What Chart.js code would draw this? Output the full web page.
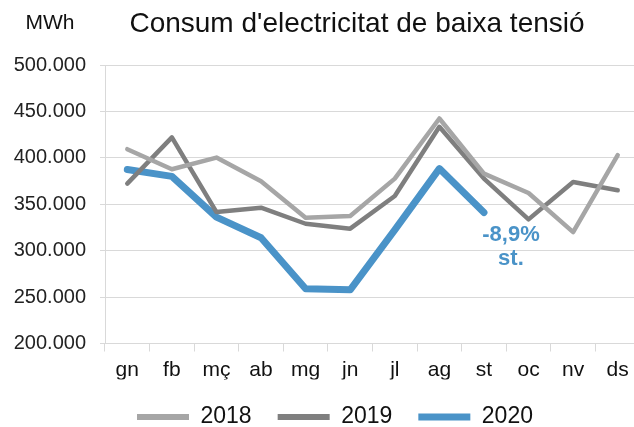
<!DOCTYPE html>
<html>
<head>
<meta charset="utf-8">
<script src="https://cdn.jsdelivr.net/npm/chart.js@4.4.1/dist/chart.umd.min.js"></script>
<style>
  html, body { margin: 0; padding: 0; background: #fff; overflow: hidden; }
  #wrap { width: 645px; height: 440px; }
</style>
</head>
<body>
<div id="wrap"><canvas id="chart_consum" width="645" height="440"></canvas></div>
<script>
//Chart data
const months = ["gn", "fb", "mç", "ab", "mg", "jn", "jl", "ag", "st", "oc", "nv", "ds"];
const values2018 = [409300, 387700, 400300, 374700, 335500, 337300, 377600, 442400, 383000, 362100, 320000, 402800];
const values2019 = [372200, 422000, 341600, 346300, 329000, 323700, 358900, 433400, 377600, 333700, 374000, 365000];
const values2020 = [387400, 380000, 336200, 313900, 258900, 257800, 322400, 388400, 341000, null, null, null];
const yTicks = [200000, 250000, 300000, 350000, 400000, 450000, 500000];
const noteLines = ["-8,9%", "st."];

const FONT = "'Liberation Sans', Arial, sans-serif";
const BLUE = "#4a93c8";
const LEGEND_PAD = 26;

//Thousands with a dot, like the original
function fmt(v){
    return String(v).replace(/\B(?=(\d{3})+(?!\d))/g, ".");
}

//Title, unit and the september note
const textPlugin = {
    id: "textPlugin",
    afterDraw(chart){
        const ctx = chart.ctx;
        ctx.save();
        ctx.fillStyle = "#111";
        ctx.textAlign = "center";
        ctx.textBaseline = "alphabetic";
        ctx.font = "28px " + FONT;
        ctx.fillText("Consum d'electricitat de baixa tensió", 357, 32);
        ctx.font = "21px " + FONT;
        ctx.fillText("MWh", 50, 29);

        //note next to the last 2020 point
        const i = 8;
        const px = chart.scales.x.getPixelForValue(i);
        const py = chart.scales.y.getPixelForValue(values2020[i]);
        ctx.fillStyle = BLUE;
        ctx.textBaseline = "middle";
        ctx.font = "bold 22px " + FONT;
        ctx.fillText(noteLines[0], px + 27, py + 22);
        ctx.fillText(noteLines[1], px + 27, py + 46);
        ctx.restore();
    }
};

//Legend sits under the plot, a bit to the right of the y axis
const legendShift = {
    id: "legendShift",
    afterLayout(chart){
        const lg = chart.legend;
        const w = lg.width;
        lg.left = 137 - LEGEND_PAD;
        lg.right = lg.left + w;
    }
};

const data = {
    labels: months,
    datasets: [
        { label: "2018", data: values2018, borderColor: "#a6a6a6", backgroundColor: "#a6a6a6", borderWidth: 4.5 },
        { label: "2019", data: values2019, borderColor: "#7f7f7f", backgroundColor: "#7f7f7f", borderWidth: 4.5 },
        { label: "2020", data: values2020, borderColor: BLUE, backgroundColor: BLUE, borderWidth: 7 }
    ]
};

const config = {
    type: "line",
    data: data,
    options: {
        responsive: false,
        animation: false,
        layout: { padding: { top: 65, right: 5, left: 0, bottom: 1.5 } },
        elements: {
            point: { radius: 0 },
            line: { tension: 0, borderCapStyle: "round", borderJoinStyle: "round" }
        },
        scales: {
            x: {
                offset: true,
                grid: { offset: true, drawOnChartArea: false, drawTicks: true, tickLength: 8, color: "#d9d9d9" },
                border: { color: "#d9d9d9" },
                ticks: { color: "#111", font: { family: FONT, size: 21 }, padding: 6 },
                afterFit: function(scale){ scale.height = 36; }
            },
            y: {
                min: 200000,
                max: 500000,
                afterBuildTicks: function(scale){ scale.ticks = yTicks.map(v => ({ value: v })); },
                grid: { color: "#d9d9d9", tickLength: 5, lineWidth: 1 },
                border: { color: "#d9d9d9" },
                ticks: { color: "#222", font: { family: FONT, size: 20 }, padding: 14, callback: v => fmt(v) },
                afterFit: function(scale){ scale.width = 105; }
            }
        },
        plugins: {
            legend: {
                position: "bottom",
                align: "start",
                fullSize: false,
                labels: {
                    usePointStyle: true,
                    pointStyle: "line",
                    pointStyleWidth: 52,
                    color: "#111",
                    padding: LEGEND_PAD,
                    font: { family: FONT, size: 23 },
                    generateLabels: function(chart){
                        const items = Chart.defaults.plugins.legend.labels.generateLabels(chart);
                        items.forEach(function(it){ it.lineWidth = it.datasetIndex === 2 ? 7 : 6; });
                        return items;
                    }
                }
            },
            tooltip: { enabled: false }
        }
    },
    plugins: [textPlugin, legendShift]
};

var consumChart = new Chart(document.getElementById("chart_consum").getContext("2d"), config);
</script>
</body>
</html>
